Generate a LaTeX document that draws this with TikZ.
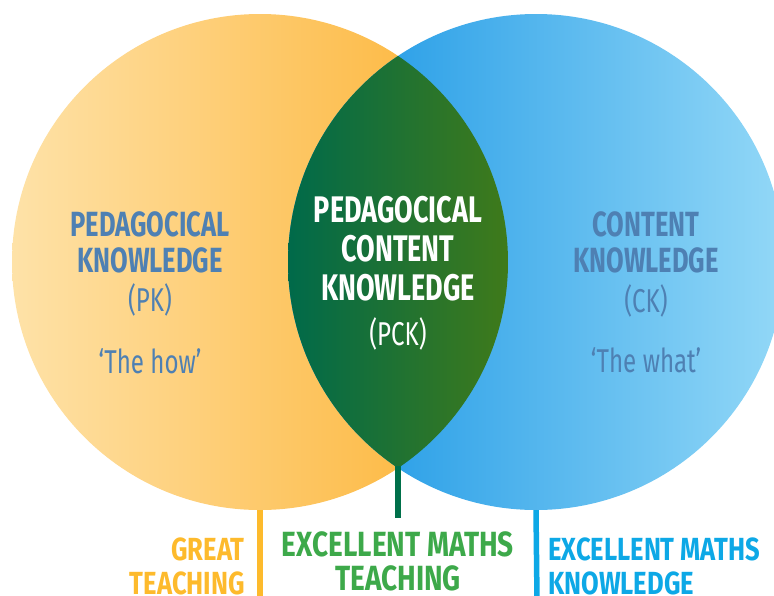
\documentclass[tikz,border=0pt]{standalone}
\usepackage{fontspec}
\setmainfont{Fira Sans}[FakeStretch=0.73]
\newfontfamily\outcomefont{Fira Sans}[FakeStretch=0.8]
\usepackage{xcolor}
\usepackage{tikz}
\usetikzlibrary{
    positioning,
    calc
}
\definecolor{pkpale}{HTML}{FEE2A8}
\definecolor{pkdeep}{HTML}{FDB12F}
\definecolor{ckdeep}{HTML}{1493E4}
\definecolor{ckpale}{HTML}{93D8F7}
\definecolor{pckleft}{HTML}{006A4A}
\definecolor{pckright}{HTML}{3F7A1A}
\definecolor{labelblue}{HTML}{4E80B3}
\definecolor{teachgold}{HTML}{FDBA2C}
\definecolor{mathsgreen}{HTML}{3DA94A}
\definecolor{knowblue}{HTML}{0DA8E6}
\definecolor{stemgreen}{HTML}{00704A}
\tikzset{
    knowledgearea/.style={
        circle,
        minimum size=496pt,
        inner sep=0pt
    }
}
\tikzset{
    areatitle/.style={
        align=center,
        inner sep=0pt,
        anchor=base,
        font=\bfseries\fontsize{35}{36}\selectfont
    }
}
\tikzset{
    areasub/.style={
        align=center,
        inner sep=0pt,
        anchor=base,
        font=\fontsize{33}{36}\selectfont
    }
}
\tikzset{
    outcome/.style={
        inner sep=0pt,
        anchor=base,
        font=\outcomefont\bfseries\fontsize{32}{34}\selectfont
    }
}
\tikzset{
    stemline/.style={
        line width=5.5pt
    }
}

\begin{document}
\begin{tikzpicture}[
    x=1pt,
    y=-1pt
]

\useasboundingbox (0,0) rectangle (774,595);

% the two knowledge areas
\node[knowledgearea, left color=pkpale, right color=pkdeep] (pk) at (260,262) {};
\node[knowledgearea, left color=ckdeep, right color=ckpale] (ck) at (536,262) {};

% overlap
\begin{scope}
    \clip (pk.center) circle (248);
    \clip (ck.center) circle (248);
    \shade[left color=pckleft, right color=pckright] (288,0) rectangle (508,600);
\end{scope}

\coordinate (lenstip) at (398,466);
\coordinate (pkfoot) at (260,600);
\coordinate (pckfoot) at (398,518);
\coordinate (ckfoot) at (537,600);

\draw[stemline, teachgold] (pk.south) -- (pkfoot);
\draw[stemline, stemgreen] (lenstip) -- (pckfoot);
\draw[stemline, knowblue] (ck.south) -- (ckfoot);

% labels inside the circles (base = last line)
\node[areatitle, text=labelblue] (pktitle) at (150,272)
    {PEDAGOCICAL\\KNOWLEDGE};
\node[areasub, text=labelblue] (pkcode) at (150,311) {(PK)};
\node[areasub, text=labelblue] (pktag) at (150,373) {`The how'};

\node[areatitle, text=white, font=\bfseries\fontsize{37}{39}\selectfont] (pcktitle) at (398,300)
    {PEDAGOCICAL\\CONTENT\\KNOWLEDGE};
\node[areasub, text=white] (pckcode) at (398,345) {(PCK)};

\node[areatitle, text=labelblue] (cktitle) at (646,272)
    {CONTENT\\KNOWLEDGE};
\node[areasub, text=labelblue] (ckcode) at (646,312) {(CK)};
\node[areasub, text=labelblue] (cktag) at (646,372) {`The what'};

% outcomes under the stems
\node[outcome, text=teachgold, align=right, anchor=base east] (teaching) at (245,594)
    {GREAT\\TEACHING};
\node[outcome, text=mathsgreen, align=center, font=\outcomefont\bfseries\fontsize{35}{34}\selectfont] (mathsteaching) at (398,590)
    {EXCELLENT MATHS\\TEACHING};
\node[outcome, text=knowblue, align=left, anchor=base west] (mathsknowledge) at (548,594)
    {EXCELLENT MATHS\\KNOWLEDGE};

\end{tikzpicture}
\end{document}
